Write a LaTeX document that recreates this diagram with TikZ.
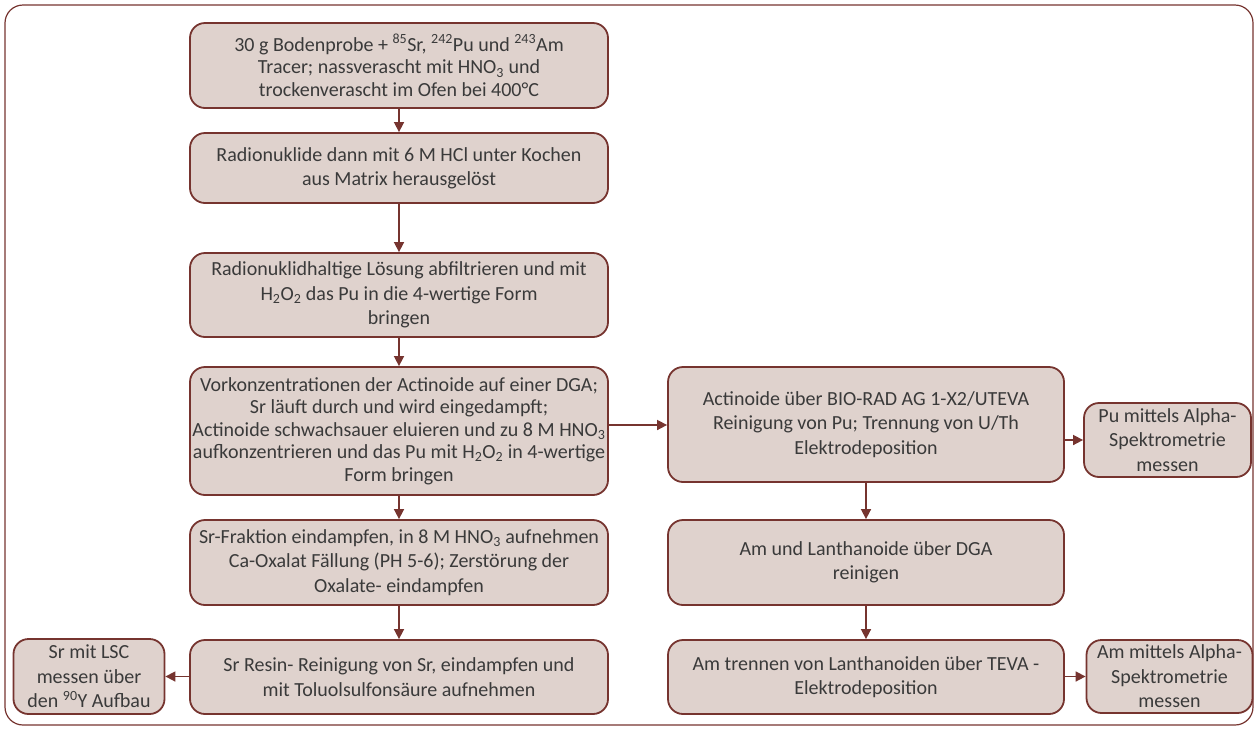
\documentclass[tikz,border=0pt]{standalone}
\usepackage{fontspec}
\setmainfont{Carlito}
\usetikzlibrary{arrows.meta}
\definecolor{bg}{HTML}{DFD2CD}
\definecolor{brd}{HTML}{76342F}
\definecolor{txt}{HTML}{3A3A3A}
\tikzset{
  box/.style={draw=brd, fill=bg, rounded corners=15pt, line width=1.8pt, align=center,
    text=txt, inner sep=0pt, font=\fontsize{20}{24.4}\selectfont},
  tight/.style={font=\fontsize{20}{22.5}\selectfont},
  arr/.style={draw=brd, line width=1.6pt, -{Triangle[length=10pt,width=10pt]}},
}
\begin{document}
\begin{tikzpicture}[x=1pt,y=-1pt]
\useasboundingbox (0,0) rectangle (1258,729);
\draw[brd, line width=1.2pt, rounded corners=18pt] (5,5) rectangle (1253,725);
\node[box, tight, minimum width=418pt, minimum height=85pt] (B1) at (399,65.5)
  {30 g Bodenprobe + \textsuperscript{85}Sr, \textsuperscript{242}Pu und \textsuperscript{243}Am\\
   Tracer; nassverascht mit HNO\textsubscript{3} und\\ trockenverascht im Ofen bei 400°C};
\node[box, minimum width=418pt, minimum height=70pt] (B2) at (399,168)
  {Radionuklide dann mit 6 M HCl unter Kochen\\ aus Matrix herausgelöst};
\node[box, minimum width=418pt, minimum height=84pt] (B3) at (399,295)
  {Radionuklidhaltige Lösung abfiltrieren und mit\\ H\textsubscript{2}O\textsubscript{2} das Pu in die 4-wertige Form\\ bringen};
\node[box, tight, minimum width=418pt, minimum height=128pt] (B4) at (399,431)
  {Vorkonzentrationen der Actinoide auf einer DGA;\\ Sr läuft durch und wird eingedampft;\\
   Actinoide schwachsauer eluieren und zu 8 M HNO\textsubscript{3}\\
   aufkonzentrieren und das Pu mit H\textsubscript{2}O\textsubscript{2} in 4-wertige\\ Form bringen};
\node[box, minimum width=418pt, minimum height=85pt] (B5) at (399,562.5)
  {Sr-Fraktion eindampfen, in 8 M HNO\textsubscript{3} aufnehmen\\ Ca-Oxalat Fällung (PH 5-6); Zerstörung der\\ Oxalate- eindampfen};
\node[box, minimum width=418pt, minimum height=74pt] (B6) at (399,677)
  {Sr Resin- Reinigung von Sr, eindampfen und\\ mit Toluolsulfonsäure aufnehmen};
\node[box, minimum width=396pt, minimum height=115pt] (R1) at (866,424.5)
  {Actinoide über BIO-RAD AG 1-X2/UTEVA\\ Reinigung von Pu; Trennung von U/Th\\ Elektrodeposition};
\node[box, minimum width=396pt, minimum height=85pt] (R2) at (866,562.5)
  {Am und Lanthanoide über DGA\\ reinigen};
\node[box, minimum width=396pt, minimum height=74pt] (R3) at (866,677)
  {Am trennen von Lanthanoiden über TEVA -\\ Elektrodeposition};
\node[box, minimum width=167pt, minimum height=74pt] (P1) at (1167.5,440)
  {Pu mittels Alpha-\\ Spektrometrie\\ messen};
\node[box, minimum width=166pt, minimum height=73pt] (P2) at (1169.5,676.5)
  {Am mittels Alpha-\\ Spektrometrie\\ messen};
\node[box, minimum width=151pt, minimum height=75pt] (L) at (89,676.5)
  {Sr mit LSC\\ messen über\\ den \textsuperscript{90}Y Aufbau};
\coordinate (h1) at (0,425);
\draw[arr] (B1) -- (B2);
\draw[arr] (B2) -- (B3);
\draw[arr] (B3) -- (B4);
\draw[arr] (B4) -- (B5);
\draw[arr] (B5) -- (B6);
\draw[arr] (R1) -- (R2);
\draw[arr] (R2) -- (R3);
\draw[arr] (B4.east |- h1) -- (R1.west |- h1);
\draw[arr] (R1.east |- P1.west) -- (P1.west);
\draw[arr] (R3.east |- P2.west) -- (P2.west);
\draw[arr] (B6.west |- L.east) -- (L.east);
\end{tikzpicture}
\end{document}
